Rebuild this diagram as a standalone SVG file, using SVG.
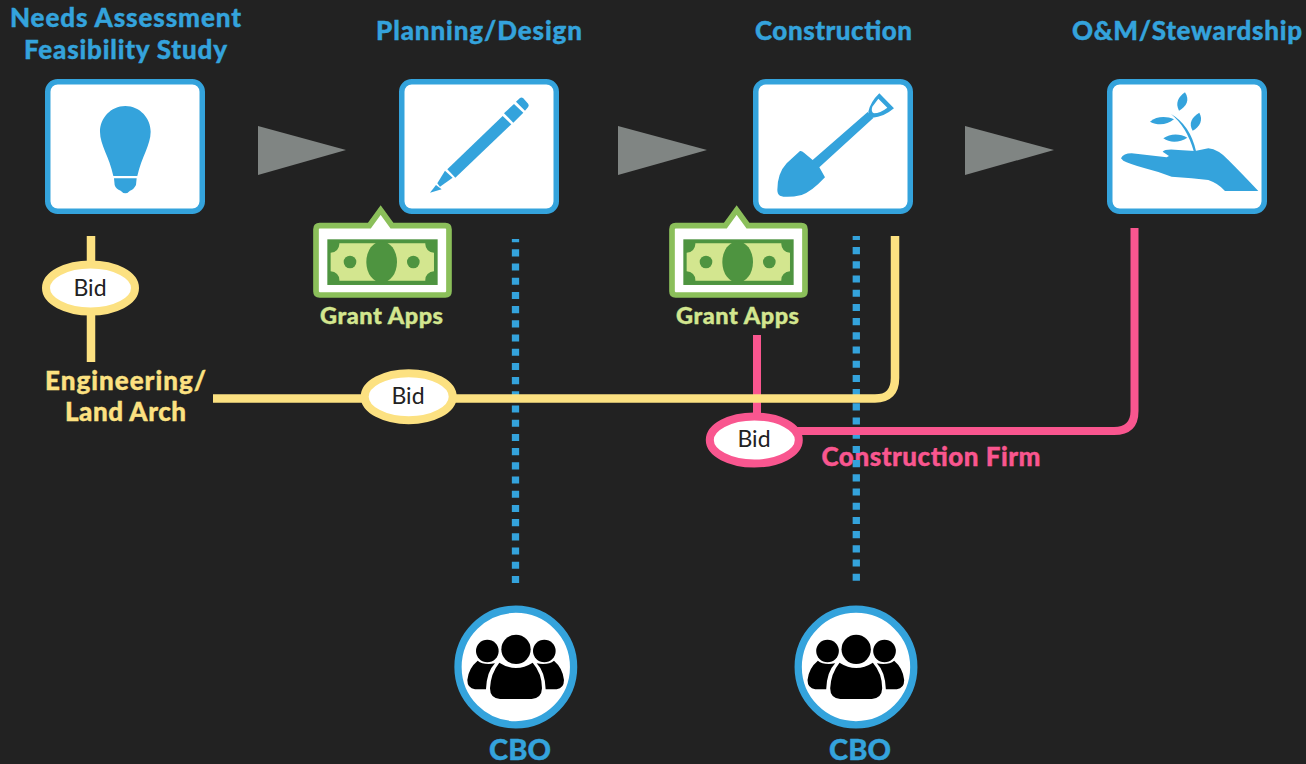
<svg xmlns="http://www.w3.org/2000/svg" xmlns:xlink="http://www.w3.org/1999/xlink" width="1306" height="764" viewBox="0 0 1306 764">
<style>
text{font-family:"Lato","Liberation Sans",sans-serif;font-weight:900;text-anchor:middle;stroke-width:.4px}
.t{fill:#34a3dc;stroke:#34a3dc;font-size:26px}
.y{fill:#fce181;stroke:#fce181;font-size:26px}
.g{fill:#d3e68f;stroke:#d3e68f;font-size:23.500px}
.p{fill:#f9568f;stroke:#f9568f;font-size:26px}
.c{fill:#34a3dc;stroke:#34a3dc;font-size:29px}
.b{fill:#222;font-size:23px;font-weight:400}
.box{fill:#fff;stroke:#34a3dc;stroke-width:5.500}
.ic{fill:#34a3dc}
.ar{fill:#808583}
.dot{fill:none;stroke:#34a3dc;stroke-width:7.300;stroke-dasharray:7.100 7.100}
.yl{fill:none;stroke:#fce181;stroke-width:8.500}
.pl{fill:none;stroke:#f9568f;stroke-width:8}
.oy{fill:#fff;stroke:#fce181;stroke-width:8}
.op{fill:#fff;stroke:#f9568f;stroke-width:8}
.circ{fill:#fff;stroke:#34a3dc;stroke-width:7.300}
</style>
<defs>
<g id="money">
<path d="M59 467H208L242 420L276 467H436Q447 467 447 478V664Q447 675 436 675H59Q48 675 48 664V478Q48 467 59 467Z" fill="#fff" stroke="#8bbf5a" stroke-width="17" stroke-linejoin="miter"/>
<rect x="82" y="508" width="331" height="137" fill="#4e9440"/>
<path d="M118 520H376A26 26 0 0 0 402 548V604A26 26 0 0 0 376 632H118A26 26 0 0 0 92 604V548A26 26 0 0 0 118 520Z" fill="#d3e68f"/>
<ellipse cx="245" cy="576" rx="46" ry="62" fill="#4e9440"/>
<circle cx="150" cy="576" r="19" fill="#4e9440"/>
<circle cx="340" cy="576" r="19" fill="#4e9440"/>
</g>
<g id="people">
<circle cx="142" cy="183" r="34"/>
<circle cx="313" cy="183" r="34"/>
<path d="M113 212Q130 226 165 220Q140 245 138 298H105Q82 295 82 270Q85 235 113 212Z"/>
<path d="M342 212Q325 226 290 220Q315 245 317 298H350Q372 295 372 270Q369 235 342 212Z"/>
<circle cx="228" cy="178" r="44"/>
<path d="M178 218Q228 250 278 218Q306 250 306 295Q305 325 275 327H180Q150 325 150 295Q152 250 178 218Z"/>
</g>
</defs>
<rect width="1306" height="764" fill="#222"/>
<text id="firm-label" class="p" x="931" y="465.500" textLength="219">Construction Firm</text>
<g id="connectors">
<path class="dot" d="M515.500 239V583" stroke-dashoffset="3.900"/>
<path class="dot" d="M856.300 236V581" stroke-dashoffset="3.100"/>
<path class="pl" d="M757 335V420"/>
<path class="pl" d="M795 431H1114Q1134.500 431 1134.500 411V228"/>
<path class="yl" d="M91 236V362"/>
<path class="yl" d="M213 398.500H875Q895 398.500 895 378V236"/>
<path class="ar" d="M258 126L346 150L258 175Z"/>
<path class="ar" d="M618 126L707 150L618 175Z"/>
<path class="ar" d="M965 126L1054 150L965 175Z"/>
</g>
<g id="needs-assessment">
<text class="t" x="125.500" y="27" textLength="231">Needs Assessment</text>
<text class="t" x="125.500" y="59" textLength="203">Feasibility Study</text>
<rect class="box" x="47.750" y="81.750" width="154.500" height="129.500" rx="10"/>
<g transform="translate(30 70) scale(.3333)" class="ic">
<path d="M286 108C330 108 362 145 362 185C362 225 335 260 322 318H250C238 260 210 225 210 185C210 145 242 108 286 108Z"/>
<path d="M252 325H320L318 345Q310 360 300 362Q286 378 272 362Q258 358 254 345Z"/>
</g>
</g>
<g id="planning-design">
<text class="t" x="479" y="40" textLength="206">Planning/Design</text>
<rect class="box" x="401.750" y="81.750" width="154.500" height="129.500" rx="10"/>
<g transform="translate(300 70) scale(.3333)" class="ic">
<path d="M390 368L408 345L425 358Z"/>
<path d="M412 340L435 302L458 323L420 350Z"/>
<path d="M442 298L608 138L634 163L466 323Z"/>
<path d="M612 130L642 102L670 128L640 158Z"/>
<path d="M648 95L660 84Q665 81 670 85L685 102Q688 108 684 112L675 122Z"/>
</g>
</g>
<g id="construction">
<text class="t" x="833.500" y="40" textLength="157">Construction</text>
<rect class="box" x="755.750" y="81.750" width="154.500" height="129.500" rx="10"/>
<g transform="translate(740 70) scale(.3333)" class="ic">
<path d="M112 360Q112 310 140 280L180 243Q186 242 192 248L218 270L383 126L400 144L238 292L255 322Q215 365 185 375Q140 385 120 377Q112 372 112 360Z"/>
<path fill-rule="evenodd" d="M418 70L462 115Q430 142 398 143Q385 135 385 125Q392 95 418 70ZM415 86L442 113Q420 130 402 130Q392 125 397 110Z"/>
</g>
</g>
<g id="stewardship">
<text class="t" x="1187" y="40" textLength="230">O&amp;M/Stewardship</text>
<rect class="box" x="1109.750" y="81.750" width="154.500" height="129.500" rx="10"/>
<g transform="translate(1095 70) scale(.3333)" class="ic">
<path d="M78 265Q85 250 110 250L215 262L222 258L203 245Q210 236 250 240L300 243L340 235Q370 238 400 270Q440 310 490 363H390Q370 340 340 330L290 325L230 320Q190 305 150 295Q100 280 85 272Z"/>
<path d="M228 132Q285 165 303 243H296Q275 170 228 132Z"/>
<path d="M270 67C285 90 275 110 252 122C240 100 250 80 270 67Z"/>
<path d="M313 128C325 150 315 170 293 182C280 160 290 142 313 128Z"/>
<path d="M165 155C185 138 215 138 237 148C215 165 190 168 165 155Z"/>
<path d="M205 205C225 190 255 190 277 203C255 218 225 220 205 205Z"/>
</g>
</g>
<g id="grant-apps-1">
<use xlink:href="#money" href="#money" transform="translate(300 70) scale(.3333)"/>
<text class="g" x="381.500" y="324" textLength="123">Grant Apps</text>
</g>
<g id="grant-apps-2">
<use xlink:href="#money" href="#money" transform="translate(656 70) scale(.3333)"/>
<text class="g" x="737.500" y="324" textLength="123">Grant Apps</text>
</g>
<g id="bid-1"><ellipse class="oy" cx="90.500" cy="288" rx="44.500" ry="23.500"/><text class="b" x="90" y="296">Bid</text></g>
<g id="engineering">
<text class="y" x="125.500" y="390" textLength="161">Engineering/</text>
<text class="y" x="125.500" y="421" textLength="121">Land Arch</text>
</g>
<g id="bid-2"><ellipse class="oy" cx="408.700" cy="396.700" rx="44" ry="23.500"/><text class="b" x="408" y="404">Bid</text></g>
<g id="bid-3"><ellipse class="op" cx="754.300" cy="440" rx="44.500" ry="23.500"/><text class="b" x="754" y="447">Bid</text></g>
<g id="cbo-1">
<circle class="circ" cx="515.800" cy="667" r="57.800"/>
<use xlink:href="#people" href="#people" transform="translate(440 590) scale(.3333)"/>
<text class="c" x="520" y="760" textLength="62">CBO</text>
</g>
<g id="cbo-2">
<circle class="circ" cx="856" cy="667" r="57.800"/>
<use xlink:href="#people" href="#people" transform="translate(780.200 590) scale(.3333)"/>
<text class="c" x="860" y="760" textLength="62">CBO</text>
</g>
</svg>
